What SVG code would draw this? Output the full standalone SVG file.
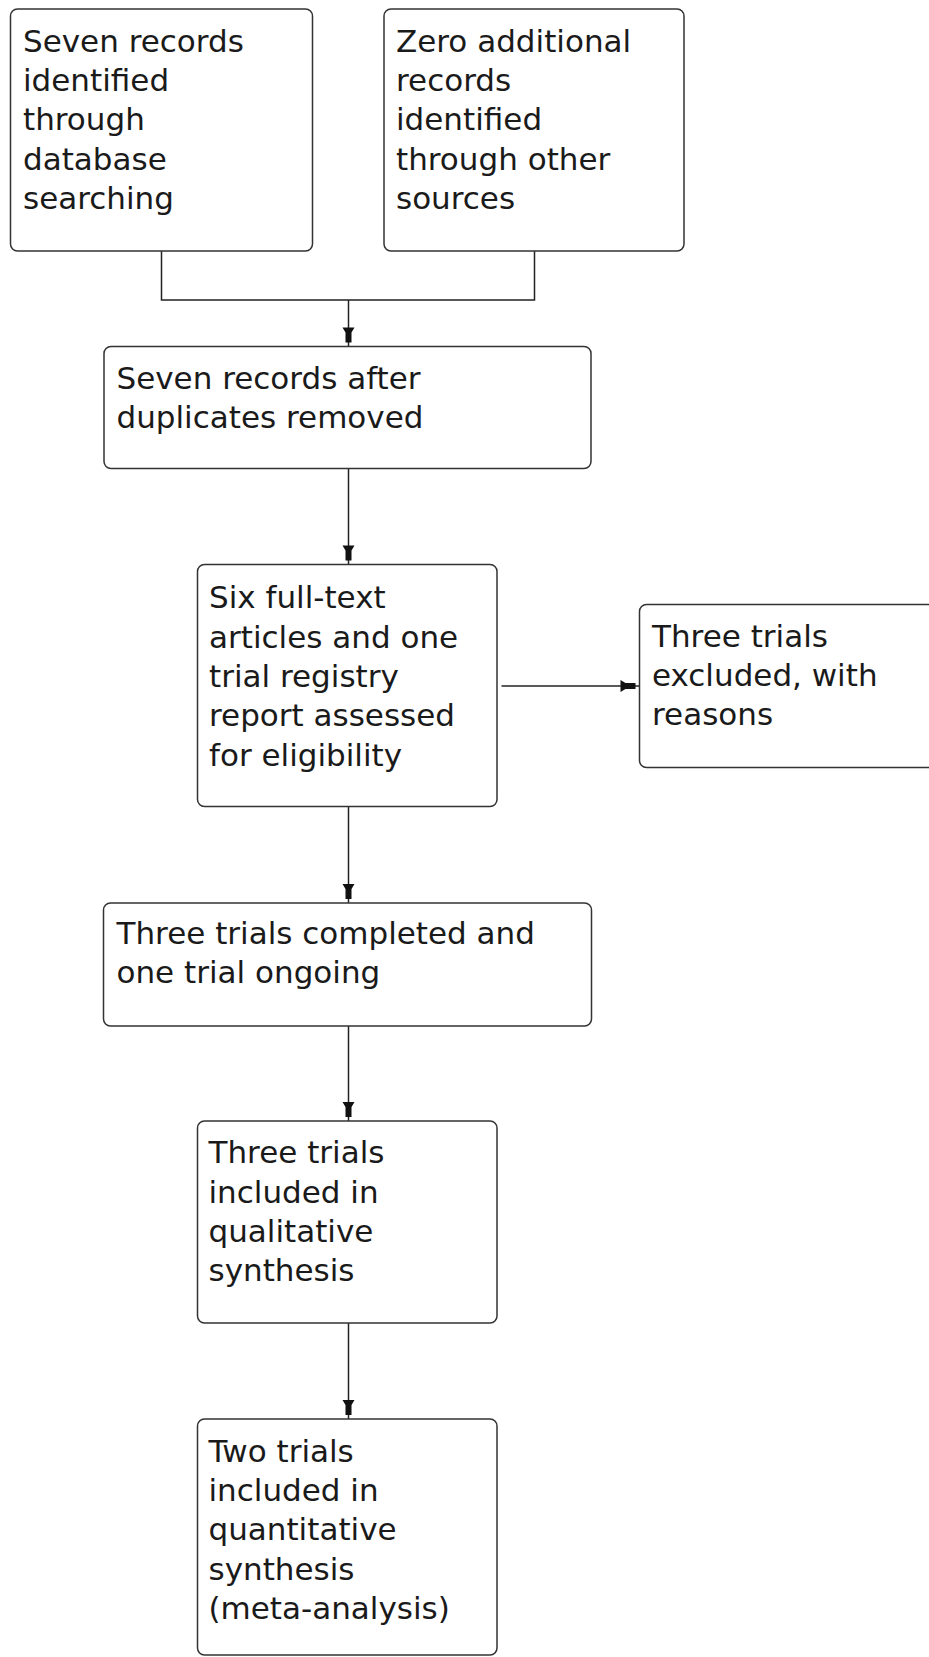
<svg xmlns="http://www.w3.org/2000/svg" width="929" height="1657" viewBox="0 0 929 1657">
<style>
.box{fill:#fff;stroke:#333;stroke-width:1.5}
.lbl{font-family:"DejaVu Sans","Liberation Sans",sans-serif;font-size:31px;fill:#1a1a1a}
.conn{fill:none;stroke:#222;stroke-width:1.5}
</style>
<defs>
<marker id="arr" markerUnits="userSpaceOnUse" viewBox="-20 -7 20 14" refX="0" refY="0" markerWidth="20" markerHeight="14" orient="auto">
<path d="M-19,-6 L-19,6 L-14,3 L-4,3 L-4,-3 L-14,-3 Z" fill="#111"/>
</marker>
</defs>
<rect width="929" height="1657" fill="#fff"/>
<g id="connectors">
<path class="conn" d="M161.5,251 V300 H534.5 V251"/>
<path class="conn" d="M348.5,300 V346.5" marker-end="url(#arr)"/>
<path class="conn" d="M348.5,468.5 V564.5" marker-end="url(#arr)"/>
<path class="conn" d="M501.5,686 H639.5" marker-end="url(#arr)"/>
<path class="conn" d="M348.5,806.5 V903" marker-end="url(#arr)"/>
<path class="conn" d="M348.5,1026 V1121" marker-end="url(#arr)"/>
<path class="conn" d="M348.5,1323 V1419" marker-end="url(#arr)"/>
</g>
<g id="n1">
<rect class="box" x="10.5" y="9" width="302" height="242" rx="7"/>
<text class="lbl"><tspan x="23" y="51.7">Seven records</tspan><tspan x="23" y="91">identified</tspan><tspan x="23" y="130.3">through</tspan><tspan x="23" y="169.6">database</tspan><tspan x="23" y="208.9">searching</tspan></text>
</g>
<g id="n2">
<rect class="box" x="384" y="9" width="300" height="242" rx="7"/>
<text class="lbl"><tspan x="396" y="51.7">Zero additional</tspan><tspan x="396" y="91">records</tspan><tspan x="396" y="130.3">identified</tspan><tspan x="396" y="169.6">through other</tspan><tspan x="396" y="208.9">sources</tspan></text>
</g>
<g id="n3">
<rect class="box" x="104" y="346.5" width="487" height="122" rx="7"/>
<text class="lbl"><tspan x="116.5" y="388.5">Seven records after</tspan><tspan x="116.5" y="427.8">duplicates removed</tspan></text>
</g>
<g id="n4">
<rect class="box" x="197.5" y="564.5" width="299.5" height="242" rx="7"/>
<text class="lbl"><tspan x="209" y="608.3">Six full-text</tspan><tspan x="209" y="647.6">articles and one</tspan><tspan x="209" y="686.9">trial registry</tspan><tspan x="209" y="726.2">report assessed</tspan><tspan x="209" y="765.5">for eligibility</tspan></text>
</g>
<g id="n5">
<rect class="box" x="639.5" y="604.5" width="300" height="163" rx="7"/>
<text class="lbl"><tspan x="652" y="646.7">Three trials</tspan><tspan x="652" y="686">excluded, with</tspan><tspan x="652" y="725.3">reasons</tspan></text>
</g>
<g id="n6">
<rect class="box" x="103.5" y="903" width="488" height="123" rx="7"/>
<text class="lbl"><tspan x="116.5" y="944">Three trials completed and</tspan><tspan x="116.5" y="983.3">one trial ongoing</tspan></text>
</g>
<g id="n7">
<rect class="box" x="197.5" y="1121" width="299.5" height="202" rx="7"/>
<text class="lbl"><tspan x="208.5" y="1163.3">Three trials</tspan><tspan x="208.5" y="1202.6">included in</tspan><tspan x="208.5" y="1241.9">qualitative</tspan><tspan x="208.5" y="1281.2">synthesis</tspan></text>
</g>
<g id="n8">
<rect class="box" x="197.5" y="1419" width="299.5" height="236" rx="7"/>
<text class="lbl"><tspan x="208.5" y="1461.7">Two trials</tspan><tspan x="208.5" y="1501">included in</tspan><tspan x="208.5" y="1540.3">quantitative</tspan><tspan x="208.5" y="1579.6">synthesis</tspan><tspan x="208.5" y="1618.9">(meta-analysis)</tspan></text>
</g>
</svg>
